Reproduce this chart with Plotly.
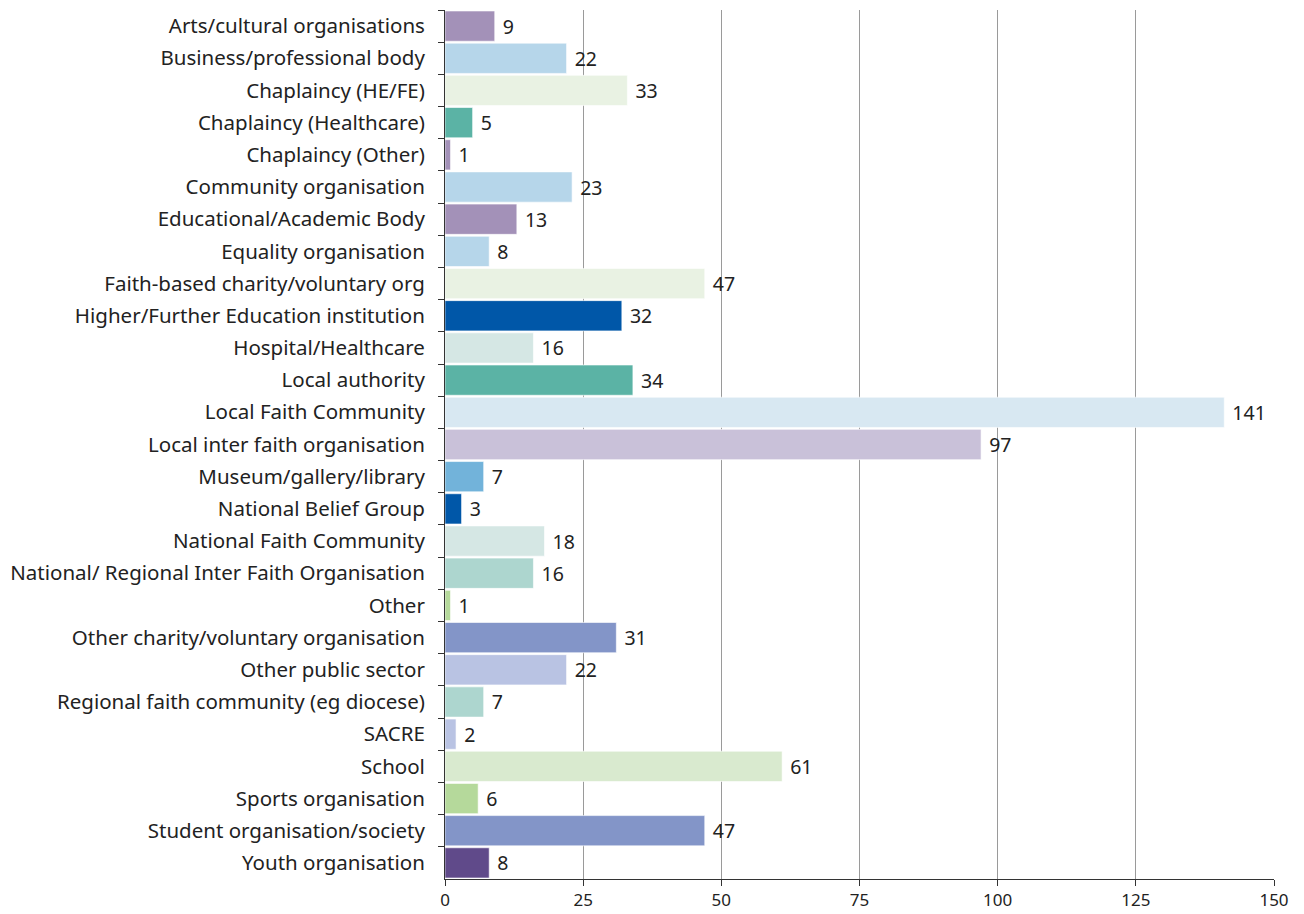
import plotly.graph_objects as go

categories = [
    "Arts/cultural organisations", "Business/professional body", "Chaplaincy (HE/FE)",
    "Chaplaincy (Healthcare)", "Chaplaincy (Other)", "Community organisation",
    "Educational/Academic Body", "Equality organisation", "Faith-based charity/voluntary org",
    "Higher/Further Education institution", "Hospital/Healthcare", "Local authority",
    "Local Faith Community", "Local inter faith organisation", "Museum/gallery/library",
    "National Belief Group", "National Faith Community", "National/ Regional Inter Faith Organisation",
    "Other", "Other charity/voluntary organisation", "Other public sector",
    "Regional faith community (eg diocese)", "SACRE", "School", "Sports organisation",
    "Student organisation/society", "Youth organisation",
]
values = [9, 22, 33, 5, 1, 23, 13, 8, 47, 32, 16, 34, 141, 97, 7, 3, 18, 16, 1, 31, 22, 7, 2, 61, 6, 47, 8]
colors = [
    "#a391b8", "#b6d6ea", "#e9f2e3", "#5bb3a5", "#a391b8", "#b6d6ea",
    "#a391b8", "#b6d6ea", "#e9f2e3", "#0057a8", "#d5e7e4", "#5bb3a5",
    "#d8e8f2", "#c9c1d9", "#72b3da", "#0057a8", "#d5e7e4", "#add6cf",
    "#b5d99b", "#8395c8", "#b9c3e3", "#add6cf", "#b9c3e3", "#d9eacf",
    "#b5d99b", "#8395c8", "#604a8a",
]
x_ticks = [0, 25, 50, 75, 100, 125, 150]

FONT = "Noto Sans"

fig = go.Figure(go.Bar(
    y=categories, x=values, orientation="h",
    marker=dict(color=colors, line=dict(color="rgba(255,255,255,0.6)", width=1)),
    text=[str(v) for v in values], texttemplate=" %{text}", textposition="outside",
    textfont=dict(family=FONT, size=19.5, color="#222222"),
    cliponaxis=False, hoverinfo="skip",
))

fig.update_layout(
    width=1304, height=914,
    margin=dict(l=437, r=38, t=2, b=43),
    paper_bgcolor="white", plot_bgcolor="white",
    bargap=0.06, showlegend=False,
    font=dict(family=FONT, size=17, color="#222222"),
)
fig.update_xaxes(
    range=[0, 150], tickvals=x_ticks, ticktext=[str(t) for t in x_ticks],
    showgrid=True, gridcolor="#9a9a9a", gridwidth=1,
    showline=True, linecolor="#333333", linewidth=1,
    ticks="outside", ticklen=6, tickcolor="#333333",
    tickfont=dict(family=FONT, size=17, color="#222222"),
    zeroline=False, fixedrange=True,
)
fig.update_yaxes(
    categoryorder="array", categoryarray=categories, autorange="reversed",
    showline=True, linecolor="#333333", linewidth=1,
    ticks="outside", ticklen=6, tickcolor="#333333", tickson="boundaries",
    tickfont=dict(family=FONT, size=20.5, color="#222222"),
    ticklabelstandoff=15,
    showgrid=False, fixedrange=True,
)

fig.write_html("out.html")
